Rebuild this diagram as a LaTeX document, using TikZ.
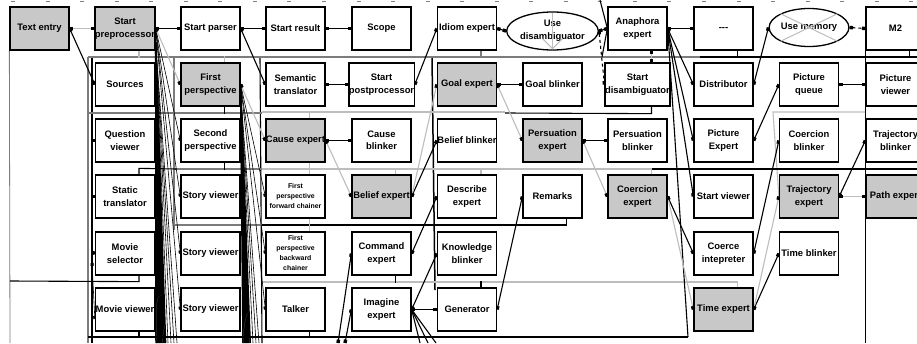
\documentclass[tikz,border=0pt]{standalone}
\usepackage{fontspec}
\setmainfont{Liberation Sans}
\usetikzlibrary{arrows.meta,shapes.geometric,calc}
\definecolor{boxgray}{HTML}{C8C8C8}
\definecolor{lgray}{HTML}{BDBDBD}
\definecolor{dgray}{HTML}{7C7C7C}
\pgfdeclarelayer{bg}
\pgfsetlayers{bg,main}
\tikzset{
  box/.style={draw, line width=1.3pt, fill=white, minimum width=59pt, minimum height=43pt,
    inner sep=0pt, align=center, font=\fontsize{9.4}{12.5}\selectfont\bfseries},
  gbox/.style={box, fill=boxgray},
  sbox/.style={box, font=\fontsize{6.9}{10}\selectfont\bfseries},
  ell/.style={draw, ellipse, line width=1.3pt, fill=white, minimum width=60pt, minimum height=38pt,
    inner sep=0pt, align=center, font=\fontsize{9.4}{12.5}\selectfont\bfseries},
  w/.style={line width=1.1pt, black},
  tw/.style={line width=0.6pt, black},
  pw/.style={w, {Square[length=3.4pt,width=3.4pt]}-{Square[length=3.4pt,width=3.4pt]}},
  tpw/.style={tw, {Square[length=3pt,width=3pt]}-{Square[length=3pt,width=3pt]}},
  gw/.style={line width=1.1pt, lgray},
  gpw/.style={gw, {Square[length=3.4pt,width=3.4pt,color=black]}-{Square[length=3.4pt,width=3.4pt,color=black]}},
  dw/.style={line width=1.3pt, dgray},
}
\begin{document}
\begin{tikzpicture}[x=1pt,y=-1pt]
\useasboundingbox (0,0) rectangle (917,343);
\clip (0,0) rectangle (917,343);
% row 0
\node[gbox] (te) at (39.5,28.5) {Text entry};
\node[gbox] (sp) at (125,28.5) {Start\\preprocessor};
\node[box] (spar) at (210.5,28.5) {Start parser};
\node[box] (sr) at (295.5,28.5) {Start result};
\node[box] (scope) at (381.5,28.5) {Scope};
\node[box] (idiom) at (467,28.5) {Idiom expert};
\node[ell] (udis) at (552.5,31) {Use\\disambiguator};
\node[box] (ana) at (637.5,28.5) {Anaphora\\expert};
\node[box] (dash) at (723.5,28.5) {{-}{-}{-}};
\node[ell] (umem) at (809,27.5) {Use memory};
\node[box] (m2) at (895.5,28.5) {M2};
% row 1
\node[box] (src) at (125,84.5) {Sources};
\node[gbox] (fp) at (210.5,84.5) {First\\perspective};
\node[box] (st) at (295.5,84.5) {Semantic\\translator};
\node[box] (spost) at (381.5,84.5) {Start\\postprocessor};
\node[gbox] (goal) at (467,84.5) {Goal expert};
\node[box] (gblink) at (552.5,84.5) {Goal blinker};
\node[box] (sdis) at (637.5,84.5) {Start\\disambiguator};
\node[box] (dist) at (723.5,84.5) {Distributor};
\node[box] (pq) at (809,84.5) {Picture\\queue};
\node[box] (pv) at (895.5,84.5) {Picture\\viewer};
% row 2
\node[box] (qv) at (125,140.5) {Question\\viewer};
\node[box] (secp) at (210.5,140.5) {Second\\perspective};
\node[gbox] (cause) at (295.5,140.5) {Cause expert};
\node[box] (cblink) at (381.5,140.5) {Cause\\blinker};
\node[box] (bblink) at (467,140.5) {Belief blinker};
\node[gbox] (pers) at (552.5,140.5) {Persuation\\expert};
\node[box] (pblink) at (637.5,140.5) {Persuation\\blinker};
\node[box] (picexp) at (723.5,140.5) {Picture\\Expert};
\node[box] (coblink) at (809,140.5) {Coercion\\blinker};
\node[box] (tblink) at (895.5,140.5) {Trajectory\\blinker};
% row 3
\node[box] (stat) at (125,196.5) {Static\\translator};
\node[box] (sv1) at (210.5,196.5) {Story viewer};
\node[sbox] (fwd) at (295.5,196.5) {First\\perspective\\forward chainer};
\node[gbox] (belief) at (381.5,196.5) {Belief expert};
\node[box] (desc) at (467,196.5) {Describe\\expert};
\node[box] (rem) at (552.5,196.5) {Remarks};
\node[gbox] (coer) at (637.5,196.5) {Coercion\\expert};
\node[box] (svw) at (723.5,196.5) {Start viewer};
\node[gbox] (traj) at (809,196.5) {Trajectory\\expert};
\node[gbox] (path) at (895.5,196.5) {Path expert};
% row 4
\node[box] (msel) at (125,253.5) {Movie\\selector};
\node[box] (sv2) at (210.5,253.5) {Story viewer};
\node[sbox] (bwd) at (295.5,253.5) {First\\perspective\\backward\\chainer};
\node[box] (cmd) at (381.5,253.5) {Command\\expert};
\node[box] (know) at (467,253.5) {Knowledge\\blinker};
\node[box] (coint) at (723.5,253.5) {Coerce\\intepreter};
\node[box] (tblk) at (809,253.5) {Time blinker};
% row 5
\node[box] (mview) at (125,309.5) {Movie viewer};
\node[box] (sv3) at (210.5,309.5) {Story viewer};
\node[box] (talk) at (295.5,309.5) {Talker};
\node[box] (img) at (381.5,309.5) {Imagine\\expert};
\node[box] (gen) at (467,309.5) {Generator};
\node[gbox] (time) at (723.5,309.5) {Time expert};
% ellipse decorations
\draw[lgray, line width=1pt] ([yshift=-2pt]udis.north) -- ([yshift=2pt]udis.south);
\draw[lgray, line width=1pt] ($(udis.south)+(-10,-12)$) -- ([yshift=2pt]udis.south) -- ($(udis.south)+(10,-12)$);
\draw[lgray, line width=1pt] (umem.north west) -- (umem.south east) (umem.south west) -- (umem.north east);
% free-end coordinates
\coordinate (lb) at (88,337);
\coordinate (anab) at (688,337);
\coordinate (cmdb) at (338,343);
\coordinate (imgb) at (345,343);
\coordinate (trajc) at (773,112);
\coordinate (trajd) at (865,112);
\coordinate (topa) at (600,0);
\coordinate (topb) at (602,57);
\begin{pgfonlayer}{bg}
\fill[white] (0,0) rectangle (917,343);
% top ruler ticks
\foreach \i in {0,...,26} \draw[gray, line width=0.8pt] (11+34.55*\i,1.2) -- ++(4,0);
% frame lines
\draw[dgray, line width=0.8pt] (te.south west) -- (10,343);
\draw[dw] (88,57) -- (88,343);
\draw[w] (92,57) -- (92,343);
\draw[dw] (174,57) -- (174,230);
\draw[w] (260,57) -- (262,343);
\draw[w, line width=1.5pt] (432,57) -- (435,290);
\draw[w] (865.5,50) -- (865.5,343);
% buses
\draw[dw] (88,57) -- (700,57);
\draw[w] (700,57) -- (917,57);
\draw[dw] (88,113) -- (262,113);
\draw[gw] (262,112) -- (505,112);
\draw[w] ([xshift=14pt]sdis.south) -- ++(0,7) -- (505,113);
\draw[gw] (trajd) -- (trajc) -- (traj.west);
\draw[dw] (174,169) -- (262,169);
\draw[gw] (262,169) -- (652,169);
\draw[w] (652,169) -- (917,169);
\draw[dw] (174,225) -- (262,225);
\draw[w] (262,225) -- (567,225);
\draw[gw] (262,282) -- (738,282);
\draw[w] (lb) -- (anab);
% stubs
\draw[gw] ([xshift=14pt]sp.south) -- ++(0,7);
\draw[gw] ([xshift=14pt]fp.north) -- ++(0,-6);
\draw[w] ([xshift=14pt]fp.south) -- ++(0,7);
\draw[dw] ([xshift=14pt]idiom.south) -- ++(0,7);
\draw[gpw] ([xshift=14pt]ana.south) -- ([xshift=14pt]sdis.north);
\draw[w] ([xshift=14pt]dash.south) -- ++(0,7);
\draw[w] ([xshift=14pt]m2.south) -- ++(0,7);
\draw[gw] ([xshift=14pt]cause.north) -- ++(0,-6);
\draw[w] ([xshift=14pt]stat.north) -- ++(0,-6) -- (176,169);
\draw[w] ([xshift=14pt]secp.south) -- ++(0,7);
\draw[gw] ([xshift=14pt]cause.south) -- ([xshift=14pt]fwd.north);
\draw[gw] ([xshift=14pt]belief.north) -- ++(0,-6);
\draw[gw] ([xshift=14pt]desc.north) -- ++(0,-6);
\draw[gw] ([xshift=14pt]coer.north) -- ++(0,-6);
\draw[w] ([xshift=14pt]rem.south) -- ++(0,7);
\draw[gw] ([xshift=14pt]fwd.south) -- ([xshift=14pt]bwd.north);
\draw[w] ([xshift=14pt]cmd.south) -- ++(0,7);
\draw[w] ([xshift=14pt]gen.north) -- ++(0,-6);
\draw[gw] ([xshift=14pt]time.north) -- ++(0,-6);
\draw[w] ([xshift=14pt]msel.south) -- ++(0,6) -- (10,281);
\draw[w] ([xshift=14pt]mview.south) -- ++(0,6);
\draw[w] ([xshift=14pt]talk.south) -- ++(0,6);
% left column ports
\draw[tpw] (92,140.5) -- (qv.west);
\draw[tpw] (92,196.5) -- (stat.west);
\draw[tpw] (92,252) -- (msel.west);
\draw[tpw] (92,263) -- ([yshift=-9.5pt]mview.west);
% bundles
\foreach \x in {156,157.2,...,166} \draw[line width=1.5pt] ([yshift=-14pt]sp.east) -- (\x,343);
\foreach \x in {168,171,174,177} \draw[tw] ([yshift=-14pt]sp.east) -- (\x,343);
\foreach \x in {243,244.2,...,251} \draw[line width=1.5pt] ([yshift=-8pt]fp.east) -- (\x,343);
\foreach \x in {253,256,259} \draw[tw] ([yshift=-8pt]fp.east) -- (\x,343);
\draw[tpw] (sp.east) -- (secp.west);
\draw[tpw] (sp.east) -- (sv1.west);
\draw[tpw] (sp.east) -- (sv2.west);
\draw[tpw] (sp.east) -- (sv3.west);
\draw[tpw] (fp.east) -- (fwd.west);
\draw[tpw] (fp.east) -- (bwd.west);
\draw[tpw] (fp.east) -- (talk.west);
\foreach \x in {420,428,436} \draw[w] (img.east) -- (\x,343);
\draw[pw] (cmdb) -- (cmd.west);
\draw[pw] (imgb) -- (img.west);
\draw[w] (topa) -- (ana.west) -- (topb);
% main black connectors
\draw[pw] (te.east) -- (src.west);
\draw[pw, line width=1.6pt] (sp.east) -- (spar.west);
\draw[pw] (spar.east) -- (sr.west);
\draw[pw] (spar.east) -- (st.west);
\draw[pw] (sr.east) -- (scope.west);
\draw[pw] (st.east) -- (spost.west);
\draw[pw] (spost.east) -- (idiom.west);
\draw[pw] (idiom.east) -- (udis.west);
\draw[pw] (udis.east) -- (ana.west);
\draw[pw, dashed] (udis.east) -- (sdis.west);
\draw[pw] (ana.east) -- (dash.west);
\draw[pw] (ana.east) -- (dist.west);
\draw[pw] (ana.east) -- (picexp.west);
\draw[pw] (ana.east) -- (svw.west);
\draw[w] (ana.east) -- (anab);
\draw[pw] (dist.east) -- (umem.west);
\draw[pw, dashed] (umem.east) -- (m2.west);
\draw[pw] (pq.east) -- (pv.west);
\draw[pw] (picexp.east) -- (pq.west);
\draw[pw] (coint.east) -- (coblink.west);
\draw[pw] (time.east) -- (tblk.west);
\draw[pw] (traj.east) -- (tblink.west);
\draw[pw] (coer.east) -- (coint.west);
\draw[pw] (cause.east) -- (cblink.west);
\draw[pw] (belief.east) -- (bblink.west);
\draw[pw] (goal.east) -- (gblink.west);
\draw[pw] (pers.east) -- (pblink.west);
\draw[pw] (cmd.east) -- (desc.west);
\draw[pw] (img.east) -- (know.west);
\draw[pw] (img.east) -- (gen.west);
\draw[pw] (gen.east) -- (rem.west);
% gray expert chain
\draw[gpw] (te.east) -- (sp.west);
\draw[gpw] (sp.east) -- (fp.west);
\draw[gpw] (fp.east) -- (cause.west);
\draw[gpw] (cause.east) -- (belief.west);
\draw[gpw] (goal.west) -- (belief.east);
\draw[gpw] (goal.east) -- (pers.west);
\draw[gpw] (pers.east) -- (coer.west);
\draw[gpw] (coer.east) -- (time.west);
\draw[gpw] (time.east) -- (traj.west);
\draw[gpw] (traj.east) -- (path.west);
\end{pgfonlayer}
\end{tikzpicture}
\end{document}
